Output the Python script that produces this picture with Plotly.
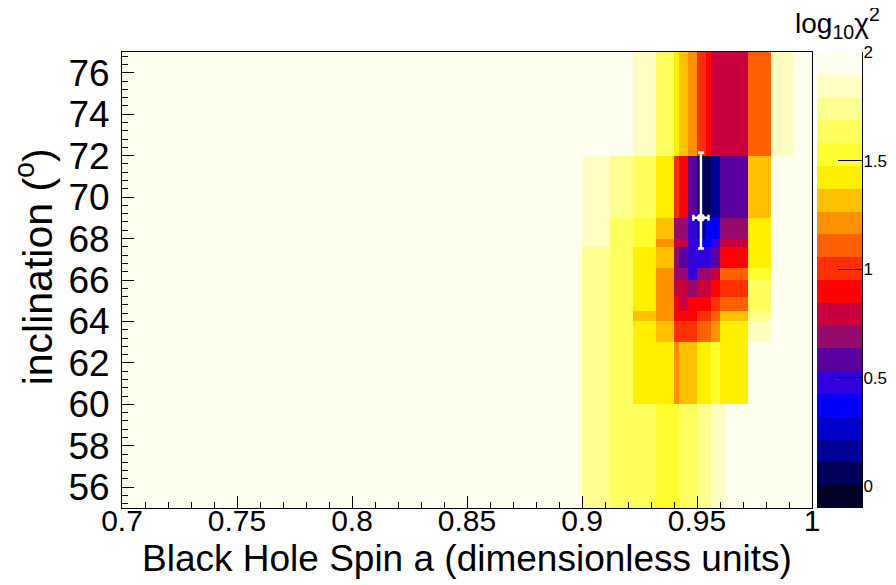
import plotly.graph_objects as go

# ---- data ----
# bin edges of the chi2 map
spin_edges = [0.7, 0.9, 0.912, 0.922, 0.932, 0.94, 0.942, 0.946, 0.95, 0.954,
              0.956, 0.96, 0.962, 0.972, 0.982, 0.992, 1.0]
incl_edges = [55, 60, 63, 64, 64.5, 65.2, 66, 66.6, 67.6, 68, 69, 72, 77]

# log10 chi2 per cell, rows bottom (55) -> top (77), columns left (0.7) -> right (1.0)
log_chi2 = [
    # 55-60
    [1.95, 1.74, 1.63, 1.63, 1.53, 1.53, 1.63, 1.63, 1.74, 1.74, 1.84, 1.84, 1.95, 1.95, 1.95, 1.95],
    # 60-63
    [1.95, 1.74, 1.63, 1.42, 1.42, 1.21, 1.32, 1.32, 1.42, 1.42, 1.53, 1.42, 1.42, 1.95, 1.95, 1.95],
    # 63-64
    [1.95, 1.74, 1.63, 1.42, 1.32, 1.00, 1.00, 1.00, 1.11, 1.11, 1.21, 1.42, 1.42, 1.84, 1.95, 1.95],
    # 64-64.5
    [1.95, 1.74, 1.63, 1.32, 1.21, 0.90, 0.90, 0.90, 1.00, 1.00, 1.11, 1.32, 1.32, 1.74, 1.95, 1.95],
    # 64.5-65.2
    [1.95, 1.74, 1.63, 1.42, 1.21, 0.90, 0.79, 0.90, 0.90, 0.90, 1.00, 1.11, 1.11, 1.63, 1.95, 1.95],
    # 65.2-66
    [1.95, 1.74, 1.63, 1.42, 1.21, 0.79, 0.79, 0.69, 0.79, 0.79, 0.90, 1.00, 1.00, 1.63, 1.95, 1.95],
    # 66-66.6
    [1.95, 1.74, 1.63, 1.42, 1.21, 0.69, 0.69, 0.48, 0.69, 0.69, 0.79, 1.11, 1.11, 1.53, 1.95, 1.95],
    # 66.6-67.6
    [1.95, 1.74, 1.63, 1.42, 1.32, 0.69, 0.58, 0.48, 0.48, 0.48, 0.58, 0.90, 0.90, 1.42, 1.95, 1.95],
    # 67.6-68
    [1.95, 1.84, 1.63, 1.53, 1.21, 0.79, 0.79, 0.48, 0.37, 0.37, 0.48, 0.79, 0.79, 1.42, 1.95, 1.95],
    # 68-69
    [1.95, 1.84, 1.63, 1.53, 1.32, 0.69, 0.69, 0.48, 0.16, 0.37, 0.37, 0.69, 0.69, 1.42, 1.95, 1.95],
    # 69-72
    [1.95, 1.84, 1.74, 1.63, 1.42, 1.00, 0.90, 0.58, 0.06, 0.06, 0.16, 0.58, 0.58, 1.32, 1.95, 1.95],
    # 72-77
    [1.95, 1.95, 1.95, 1.84, 1.63, 1.42, 1.32, 1.21, 1.00, 0.90, 0.79, 0.79, 0.79, 1.11, 1.84, 1.95],
]

# best-fit point with asymmetric errors
best_spin = [0.9517]
best_incl = [69.0]
spin_err = [0.0033]
incl_err_plus = [3.15]
incl_err_minus = [1.48]

# colour scale (20 contour bands)
z_min, z_max = -0.1, 2.0
band_colors = [
    "#000028", "#00005a", "#000096", "#0000c8", "#0000ff",
    "#3200dc", "#5a00a0", "#960a6e", "#c80040", "#ff0000",
    "#ff3000", "#ff6000", "#ff9000", "#ffc000", "#fff000",
    "#ffff30", "#ffff60", "#ffff90", "#ffffc4", "#fffff0",
]
cbar_ticks = [0, 0.5, 1, 1.5, 2]
cbar_ticktext = ["0", "0.5", "1", "1.5", "2"]

n = len(band_colors)
colorscale = []
for k, c in enumerate(band_colors):
    colorscale.append([k / n, c])
    colorscale.append([(k + 1) / n, c])
step = (z_max - z_min) / n
band_edges = [z_min + k * step for k in range(n + 1)]
band_mid = [[z_min + (k + 0.5) * step] for k in range(n)]

FONT = "Liberation Sans, Arial, Helvetica, sans-serif"

# ---- geometry (screen pixels; the page body adds an 8 px offset) ----
OFF = 8
W, H = 896 - OFF, 585 - OFF
L, R, T, B = 121.7, 811.7, 51.7, 508.3      # main frame (screen px)
CB_L, CB_R = 816.7, 861.7                   # colour bar (screen px)
PAPER_W = CB_R - L


def px_x(p):
    return (p - L) / PAPER_W


def px_y(p):
    return (B - p) / (B - T)


fig = go.Figure()
fig.add_trace(go.Heatmap(
    x=spin_edges, y=incl_edges, z=log_chi2,
    zmin=z_min, zmax=z_max, colorscale=colorscale, zsmooth=False,
    showscale=False, hoverinfo="skip", xaxis="x", yaxis="y",
))

fig.add_trace(go.Scatter(
    x=best_spin, y=best_incl, mode="markers",
    marker=dict(color="white", size=8, symbol="circle"),
    error_x=dict(type="data", array=spin_err, color="white", thickness=2.5, width=3),
    error_y=dict(type="data", symmetric=False, array=incl_err_plus,
                 arrayminus=incl_err_minus, color="white", thickness=2.5, width=3),
    showlegend=False, hoverinfo="skip", xaxis="x", yaxis="y",
))

# colour bar drawn as its own small heatmap
fig.add_trace(go.Heatmap(
    x=[0, 1], y=band_edges, z=band_mid,
    zmin=z_min, zmax=z_max, colorscale=colorscale, zsmooth=False,
    showscale=False, hoverinfo="skip", xaxis="x2", yaxis="y2",
))

# colour bar title
fig.add_annotation(
    x=px_x(837), y=px_y(23), xref="paper", yref="paper",
    xanchor="center", yanchor="middle", borderpad=0,
    text="log<sub>10</sub>χ<sup>2</sup>", showarrow=False,
    font=dict(family=FONT, size=28, color="black"),
)
# axis titles
fig.add_annotation(
    x=px_x(466.5), y=px_y(559), xref="paper", yref="paper",
    xanchor="center", yanchor="middle",
    text="Black Hole Spin a (dimensionless units)", showarrow=False,
    font=dict(family=FONT, size=37, color="black"),
)
fig.add_annotation(
    x=px_x(34), y=px_y(267), xref="paper", yref="paper",
    xanchor="center", yanchor="middle", textangle=-90,
    text="inclination (<sup>o</sup>)", showarrow=False,
    font=dict(family=FONT, size=41, color="black"),
)

fig.update_layout(
    width=W, height=H, autosize=False,
    margin=dict(l=L - OFF, r=W - (CB_R - OFF), t=T - OFF, b=H - (B - OFF), pad=0),
    paper_bgcolor="white", plot_bgcolor="white",
    font=dict(family=FONT, color="black"),
    showlegend=False,
    xaxis=dict(
        domain=[0, (R - L) / PAPER_W], anchor="y",
        automargin=False,
        range=[0.7, 1.0], tickvals=[0.7, 0.75, 0.8, 0.85, 0.9, 0.95, 1.0],
        ticktext=["0.7", "0.75", "0.8", "0.85", "0.9", "0.95", "1"],
        ticks="inside", ticklen=12, tickcolor="black",
        minor=dict(dtick=0.01, tick0=0.7, ticks="inside", ticklen=6, tickcolor="black"),
        showline=True, linecolor="black", linewidth=1, mirror=True,
        showgrid=False, zeroline=False,
        tickfont=dict(family=FONT, size=30),
        ticklabelstandoff=-14,
    ),
    yaxis=dict(
        domain=[0, 1], anchor="x",
        automargin=False,
        range=[55, 77], tickvals=list(range(56, 77, 2)),
        ticks="inside", ticklen=12, tickcolor="black",
        minor=dict(dtick=0.4, tick0=56, ticks="inside", ticklen=6, tickcolor="black"),
        showline=True, linecolor="black", linewidth=1, mirror=True,
        showgrid=False, zeroline=False,
        tickfont=dict(family=FONT, size=37),
        ticklabelstandoff=4,
    ),
    xaxis2=dict(
        domain=[(CB_L - L) / PAPER_W, 1], anchor="y2",
        range=[0, 1], visible=False, automargin=False,
    ),
    yaxis2=dict(
        domain=[0, 1], anchor="x2", side="right",
        range=[z_min, z_max], automargin=False,
        tickvals=cbar_ticks, ticktext=cbar_ticktext,
        ticks="inside", ticklen=24, tickcolor="black", tickwidth=1,
        showline=True, linecolor="black", linewidth=1,
        showgrid=False, zeroline=False,
        tickfont=dict(family=FONT, size=17),
        ticklabelstandoff=-3,
    ),
)

fig.write_html("out.html")
